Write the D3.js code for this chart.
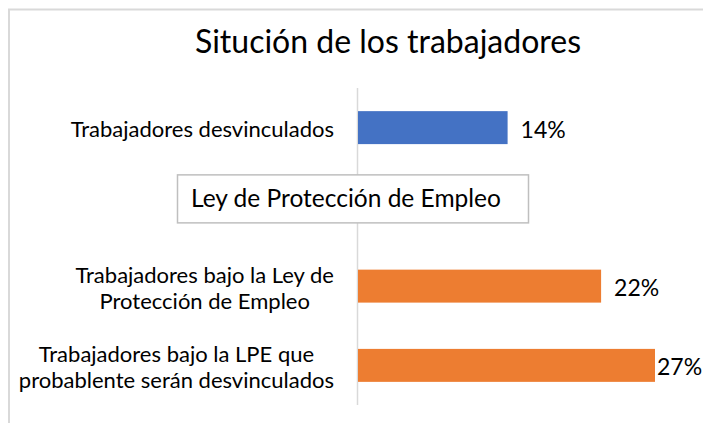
<!DOCTYPE html>
<html>
<head>
<meta charset="utf-8">
<script src="https://cdn.jsdelivr.net/npm/d3@7"></script>
<style>
  html, body { margin: 0; padding: 0; background: #fff; }
  svg { display: block; }
  text { font-family: Lato, "Open Sans", sans-serif; fill: #000; }
</style>
</head>
<body>
<svg id="chart" width="703" height="423"></svg>
<script>
// ---- data ----
const title = "Situción de los trabajadores";
const categories = [
  ["Trabajadores desvinculados"],
  [""],
  ["Trabajadores bajo la Ley de", "Protección de Empleo"],
  ["Trabajadores bajo la LPE que", "probablente serán desvinculados"]
];
const values = [0.136, null, 0.221, 0.27];
const valueLabels = ["14%", "", "22%", "27%"];
const barColors = ["#4472C4", null, "#ED7D31", "#ED7D31"];
const annotationText = "Ley de Protección de Empleo";

// ---- layout ----
const W = 703, H = 423;
const svg = d3.select("#chart");

// outer frame (only top/left visible)
svg.append("rect")
  .attr("x", 9).attr("y", 9.5)
  .attr("width", 760).attr("height", 460)
  .attr("fill", "none").attr("stroke", "#d9d9d9").attr("stroke-width", 2);

const x = d3.scaleLinear().domain([0, 0.30]).range([358, 688]);
const idx = categories.map((d, i) => i);
const y = d3.scaleBand().domain(idx).range([88, 405]).paddingInner(0.584).paddingOuter(0.292);

// title
svg.append("text")
  .attr("x", 388).attr("y", 53)
  .attr("text-anchor", "middle")
  .style("font-size", "32px")
  .text(title);

// axis line (category axis)
const yAxis = d3.axisLeft(y).tickSize(0).tickFormat("");
const gAxis = svg.append("g").attr("transform", `translate(${x(0) - 0.5},0)`).call(yAxis);
gAxis.select(".domain").attr("stroke", "#d9d9d9").attr("stroke-width", 1.5)
  .attr("d", `M0,${y.range()[0]}V${y.range()[1]}`);

// bars
svg.append("g").selectAll("rect")
  .data(idx.filter(i => values[i] != null))
  .join("rect")
  .attr("x", x(0))
  .attr("y", i => y(i))
  .attr("width", i => x(values[i]) - x(0))
  .attr("height", y.bandwidth())
  .attr("fill", i => barColors[i]);

// value labels
svg.append("g").selectAll("text")
  .data(idx.filter(i => values[i] != null))
  .join("text")
  .style("font-size", "23px")
  .attr("y", i => y(i) + y.bandwidth() / 2 + 2)
  .attr("dy", "0.35em")
  .text(i => valueLabels[i])
  .each(function(i) {
    const w = this.getComputedTextLength();
    const xs = Math.min(x(values[i]) + 13, W - 3 - w);
    d3.select(this).attr("x", Math.max(xs, x(values[i]) + 2));
  });

// category labels
const labelRight = 334;
const lineH = 26.5;
const gl = svg.append("g");
categories.forEach((lines, i) => {
  if (!lines[0]) return;
  const g = gl.append("g");
  const cy = y(i) + y.bandwidth() / 2 + 2;
  const n = lines.length;
  const ts = lines.map((l, k) => g.append("text")
    .style("font-size", "22px")
    .attr("text-anchor", "middle")
    .attr("y", cy + (k - (n - 1) / 2) * lineH)
    .attr("dy", "0.35em")
    .text(l));
  const maxW = d3.max(ts, t => t.node().getComputedTextLength());
  ts.forEach(t => t.attr("x", labelRight - maxW / 2));
});

// annotation box
const bandC = y(1) + y.bandwidth() / 2;
const box = svg.append("g");
box.append("rect")
  .attr("x", 177.5).attr("y", bandC - 32)
  .attr("width", 351).attr("height", 48)
  .attr("fill", "#fff").attr("stroke", "#bfbfbf").attr("stroke-width", 1.5);
box.append("text")
  .attr("x", 191).attr("y", bandC - 8)
  .attr("dy", "0.35em")
  .style("font-size", "24.5px")
  .text(annotationText);
</script>
</body>
</html>
